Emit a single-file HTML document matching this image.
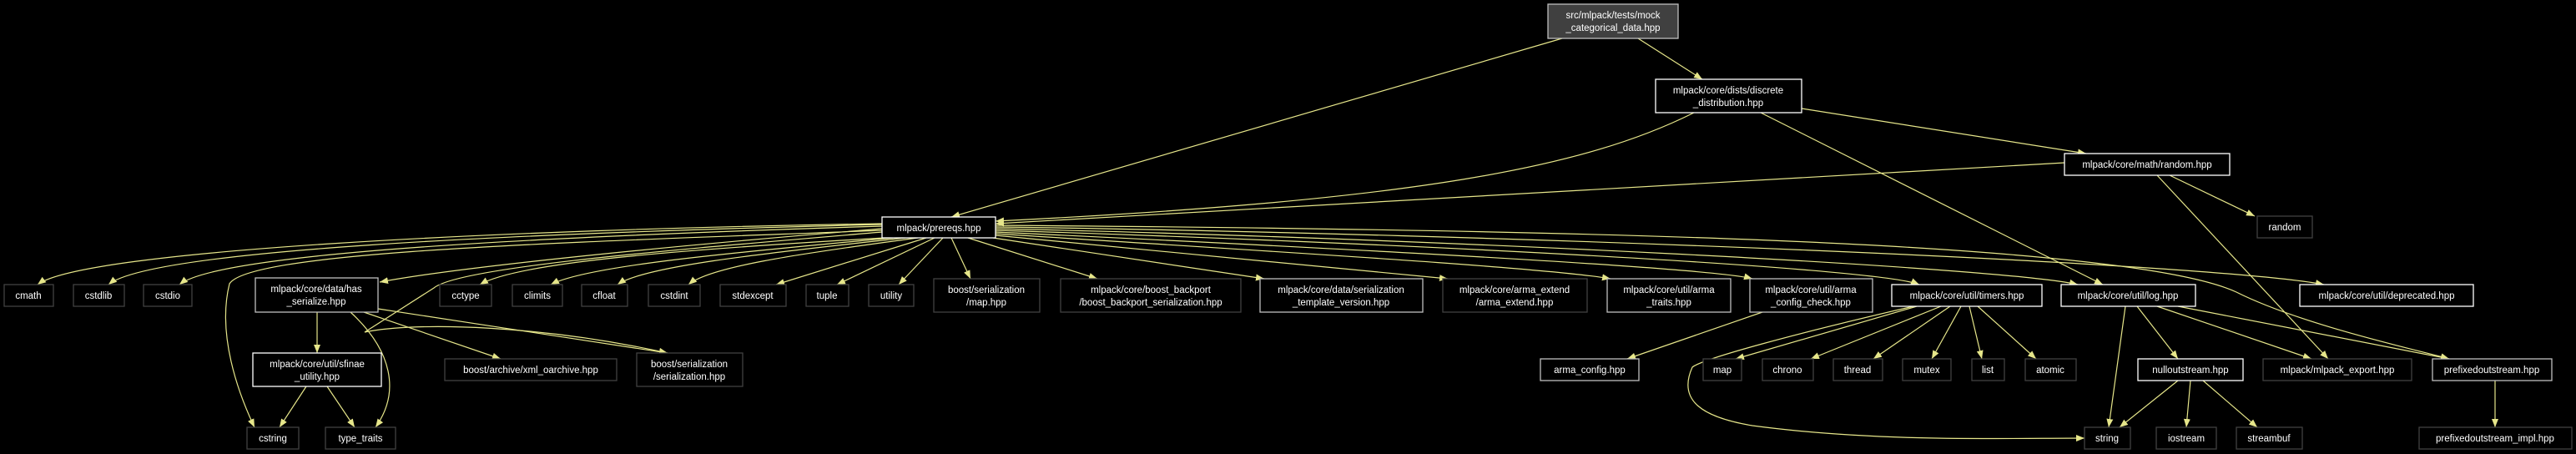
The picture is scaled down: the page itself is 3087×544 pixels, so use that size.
<!DOCTYPE html>
<html><head><meta charset="utf-8"><style>
html,body{margin:0;padding:0;background:#000;}
svg{display:block}
text{font-family:"Liberation Sans",sans-serif;font-size:11.5px;fill:#fff;text-anchor:middle}
.e{fill:none;stroke:#e6e68a;stroke-width:1.2;marker-end:url(#a)}
.d{fill:#000;stroke:#404040;stroke-width:1.3}
.w{fill:#000;stroke:#fff;stroke-width:1.3}
.g{fill:#000;stroke:#bfbfbf;stroke-width:1.3}
</style></head><body>
<svg width="3087" height="544" viewBox="0 0 3087 544" xmlns="http://www.w3.org/2000/svg">
<defs><marker id="a" viewBox="0 0 10 8" refX="10" refY="4" markerWidth="10" markerHeight="8" markerUnits="userSpaceOnUse" orient="auto"><path d="M0,0 L10,4 L0,8 z" fill="#e6e68a"/></marker></defs>
<rect width="3087" height="544" fill="#000"/>
<!-- edges -->
<path class="e" d="M1872,46 L1140,260"/>
<path class="e" d="M1963,46 L2040,95"/>
<path class="e" d="M2030,135 C1900,200 1700,240 1193,265"/>
<path class="e" d="M2159,130 L2500,184"/>
<path class="e" d="M2110,135 L2520,341"/>
<path class="e" d="M2474,195 L1193,268"/>
<path class="e" d="M2600,210 L2702,259"/>
<path class="e" d="M2585,210 L2790,430"/>
<path class="e" d="M1057,268 C600,275 100,300 45,341"/>
<path class="e" d="M1057,269 C600,280 180,300 130,341"/>
<path class="e" d="M1057,271 C600,285 260,305 215,341"/>
<path class="e" d="M1057,274 C800,295 550,320 455,338"/>
<path class="e" d="M1060,285 C800,300 620,315 575,341"/>
<path class="e" d="M1070,285 C850,305 700,320 660,341"/>
<path class="e" d="M1085,285 C900,305 770,320 740,341"/>
<path class="e" d="M1100,285 C950,305 850,320 825,341"/>
<path class="e" d="M1110,285 L930,341"/>
<path class="e" d="M1120,285 L1003,341"/>
<path class="e" d="M1130,285 L1077,341"/>
<path class="e" d="M1140,285 L1163,334"/>
<path class="e" d="M1160,285 L1315,334"/>
<path class="e" d="M1190,285 L1515,334"/>
<path class="e" d="M1193,282 L1735,334"/>
<path class="e" d="M1193,280 C1500,300 1850,320 1930,334"/>
<path class="e" d="M1193,278 C1550,295 2050,320 2100,334"/>
<path class="e" d="M1193,276 C1650,290 2250,320 2300,341"/>
<path class="e" d="M1193,274 C1700,285 2400,320 2490,341"/>
<path class="e" d="M1193,272 C1800,280 2650,315 2785,341"/>
<path class="e" d="M1193,270 C1900,275 2550,290 2680,350 C2760,390 2900,420 2935,430"/>
<path class="e" d="M1057,276 C700,290 300,300 275,340 C260,400 285,470 305,512"/>
<path class="e" d="M1057,278 C800,300 550,320 520,345 L437,398 C500,385 650,390 800,423"/>
<path class="e" d="M380,374 L380,423"/>
<path class="e" d="M436,374 L600,430"/>
<path class="e" d="M453,370 L800,423"/>
<path class="e" d="M420,374 C470,420 480,470 450,512"/>
<path class="e" d="M367,463 L335,512"/>
<path class="e" d="M392,463 L425,512"/>
<path class="e" d="M2112,374 L1950,430"/>
<path class="e" d="M2297,367 L2080,430"/>
<path class="e" d="M2326,367 L2170,430"/>
<path class="e" d="M2337,367 L2245,430"/>
<path class="e" d="M2350,367 L2315,430"/>
<path class="e" d="M2360,367 L2375,430"/>
<path class="e" d="M2370,367 L2440,430"/>
<path class="e" d="M2293,367 C2150,400 2040,430 2028,440 C2010,480 2040,500 2100,510 C2250,530 2400,525 2498,525"/>
<path class="e" d="M2547,367 L2527,512"/>
<path class="e" d="M2561,367 L2610,430"/>
<path class="e" d="M2585,367 L2770,430"/>
<path class="e" d="M2610,367 L2935,430"/>
<path class="e" d="M2610,456 L2540,512"/>
<path class="e" d="M2625,456 L2620,512"/>
<path class="e" d="M2640,456 L2705,512"/>
<path class="e" d="M2990,456 L2990,512"/>
<!-- nodes -->
<rect x="1855" y="5" width="156" height="41" fill="#404040" stroke="#bfbfbf" stroke-width="1.3"/>
<text x="1933" y="22">src/mlpack/tests/mock</text><text x="1933" y="37">_categorical_data.hpp</text>
<rect class="w" x="1984" y="95" width="175" height="40"/>
<text x="2071" y="112">mlpack/core/dists/discrete</text><text x="2071" y="127">_distribution.hpp</text>
<rect class="w" x="1057" y="260" width="136" height="25"/><text x="1125" y="277">mlpack/prereqs.hpp</text>
<rect class="w" x="2474" y="184" width="198" height="26"/><text x="2573" y="201">mlpack/core/math/random.hpp</text>
<rect class="d" x="2705" y="259" width="66" height="26"/><text x="2738" y="276">random</text>
<rect class="d" x="5" y="341" width="59" height="26"/><text x="34" y="358">cmath</text>
<rect class="d" x="88" y="341" width="61" height="26"/><text x="118" y="358">cstdlib</text>
<rect class="d" x="172" y="341" width="58" height="26"/><text x="201" y="358">cstdio</text>
<rect class="g" x="306" y="333" width="147" height="41"/><text x="379" y="350">mlpack/core/data/has</text><text x="379" y="365">_serialize.hpp</text>
<rect class="d" x="527" y="341" width="62" height="26"/><text x="558" y="358">cctype</text>
<rect class="d" x="614" y="341" width="60" height="26"/><text x="644" y="358">climits</text>
<rect class="d" x="697" y="341" width="55" height="26"/><text x="724" y="358">cfloat</text>
<rect class="d" x="777" y="341" width="62" height="26"/><text x="808" y="358">cstdint</text>
<rect class="d" x="863" y="341" width="79" height="26"/><text x="902" y="358">stdexcept</text>
<rect class="d" x="966" y="341" width="51" height="26"/><text x="991" y="358">tuple</text>
<rect class="d" x="1041" y="341" width="54" height="26"/><text x="1068" y="358">utility</text>
<rect class="d" x="1119" y="334" width="127" height="40"/><text x="1182" y="351">boost/serialization</text><text x="1182" y="366">/map.hpp</text>
<rect class="d" x="1271" y="334" width="216" height="40"/><text x="1379" y="351">mlpack/core/boost_backport</text><text x="1379" y="366">/boost_backport_serialization.hpp</text>
<rect class="g" x="1510" y="334" width="195" height="40"/><text x="1607" y="351">mlpack/core/data/serialization</text><text x="1607" y="366">_template_version.hpp</text>
<rect class="d" x="1729" y="334" width="173" height="40"/><text x="1815" y="351">mlpack/core/arma_extend</text><text x="1815" y="366">/arma_extend.hpp</text>
<rect class="g" x="1926" y="334" width="148" height="40"/><text x="2000" y="351">mlpack/core/util/arma</text><text x="2000" y="366">_traits.hpp</text>
<rect class="g" x="2097" y="334" width="147" height="40"/><text x="2170" y="351">mlpack/core/util/arma</text><text x="2170" y="366">_config_check.hpp</text>
<rect class="w" x="2267" y="341" width="180" height="26"/><text x="2357" y="358">mlpack/core/util/timers.hpp</text>
<rect class="w" x="2470" y="341" width="161" height="26"/><text x="2550" y="358">mlpack/core/util/log.hpp</text>
<rect class="w" x="2756" y="341" width="208" height="26"/><text x="2860" y="358">mlpack/core/util/deprecated.hpp</text>
<rect class="w" x="303" y="423" width="154" height="40"/><text x="380" y="440">mlpack/core/util/sfinae</text><text x="380" y="455">_utility.hpp</text>
<rect class="d" x="533" y="430" width="206" height="26"/><text x="636" y="447">boost/archive/xml_oarchive.hpp</text>
<rect class="d" x="763" y="423" width="127" height="40"/><text x="826" y="440">boost/serialization</text><text x="826" y="455">/serialization.hpp</text>
<rect class="g" x="1846" y="430" width="118" height="26"/><text x="1905" y="447">arma_config.hpp</text>
<rect class="d" x="2041" y="430" width="46" height="26"/><text x="2064" y="447">map</text>
<rect class="d" x="2112" y="430" width="61" height="26"/><text x="2142" y="447">chrono</text>
<rect class="d" x="2197" y="430" width="59" height="26"/><text x="2226" y="447">thread</text>
<rect class="d" x="2280" y="430" width="58" height="26"/><text x="2309" y="447">mutex</text>
<rect class="d" x="2363" y="430" width="39" height="26"/><text x="2382" y="447">list</text>
<rect class="d" x="2427" y="430" width="61" height="26"/><text x="2457" y="447">atomic</text>
<rect class="w" x="2562" y="430" width="126" height="26"/><text x="2625" y="447">nulloutstream.hpp</text>
<rect class="d" x="2712" y="430" width="178" height="26"/><text x="2801" y="447">mlpack/mlpack_export.hpp</text>
<rect class="g" x="2915" y="430" width="143" height="26"/><text x="2986" y="447">prefixedoutstream.hpp</text>
<rect class="d" x="296" y="512" width="62" height="26"/><text x="327" y="529">cstring</text>
<rect class="d" x="390" y="512" width="84" height="26"/><text x="432" y="529">type_traits</text>
<rect class="d" x="2498" y="512" width="55" height="26"/><text x="2525" y="529">string</text>
<rect class="d" x="2584" y="512" width="72" height="26"/><text x="2620" y="529">iostream</text>
<rect class="d" x="2680" y="512" width="79" height="26"/><text x="2719" y="529">streambuf</text>
<rect class="d" x="2899" y="512" width="183" height="26"/><text x="2990" y="529">prefixedoutstream_impl.hpp</text>
</svg>
</body></html>
